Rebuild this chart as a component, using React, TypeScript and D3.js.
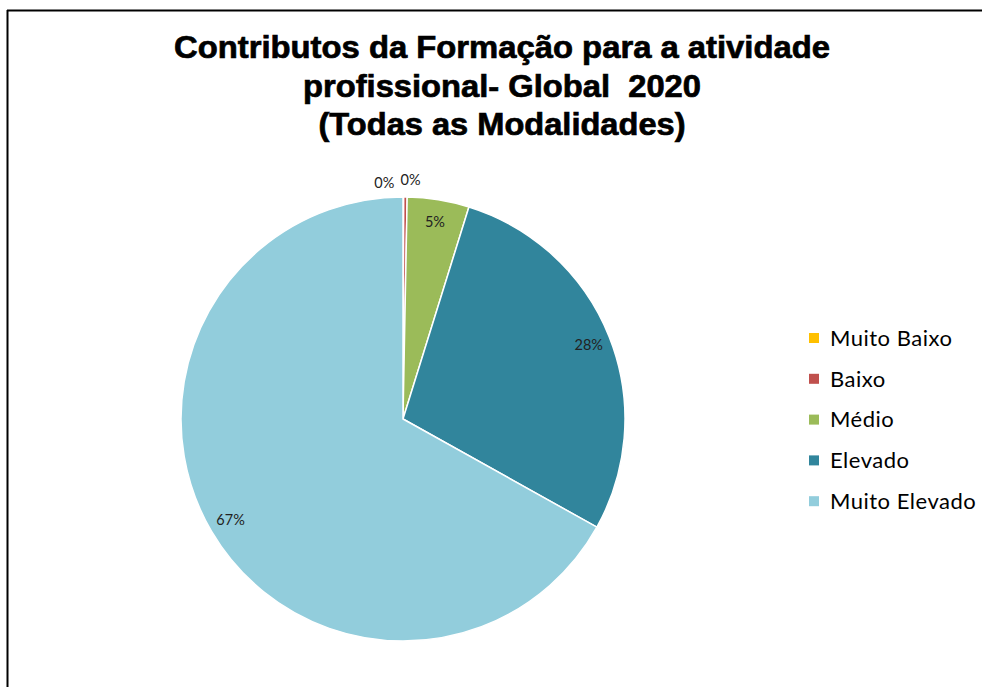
import React from "react";
import * as d3 from "d3";

const categories = ["Muito Baixo", "Baixo", "Médio", "Elevado", "Muito Elevado"];
const values = [0.05, 0.25, 4.5, 28.3, 66.9];
const valueLabels = ["0%", "0%", "5%", "28%", "67%"];
const colors = ["#FFC000", "#C0504D", "#9BBB59", "#31859C", "#92CDDC"];
const titleLines = [
  "Contributos da Formação para a atividade",
  "profissional- Global  2020",
  "(Todas as Modalidades)",
];
const titleWidths = [656, 398, 367];

const W = 982;
const H = 687;
const cx = 403;
const cy = 419;
const R = 222;

export default function App() {
  const pie = d3.pie<number>().sort(null).value((d) => d)(values);
  const arc = d3.arc<d3.PieArcDatum<number>>().innerRadius(0).outerRadius(R);
  const labelArc = d3.arc<d3.PieArcDatum<number>>().innerRadius(200).outerRadius(200);

  return (
    <svg
      width={W}
      height={H}
      style={{ position: "absolute", left: 0, top: 0, background: "#fff" }}
    >
      <rect x={0} y={0} width={W} height={H} fill="#fff" />
      <line x1={7} y1={10.5} x2={W} y2={10.5} stroke="#000" strokeWidth={2} />
      <line x1={7.5} y1={10} x2={7.5} y2={H} stroke="#000" strokeWidth={2} />
      {titleLines.map((t, i) => (
        <text
          key={i}
          x={502}
          y={58 + i * 38.5}
          textAnchor="middle"
          fontFamily="Liberation Sans, Arial, sans-serif"
          fontWeight="bold"
          fontSize={31}
          fill="#000"
          stroke="#000"
          strokeWidth={0.7}
          textLength={titleWidths[i]}
          lengthAdjust="spacingAndGlyphs"
          style={{ whiteSpace: "pre" }}
        >
          {t}
        </text>
      ))}
      <g transform={`translate(${cx},${cy})`}>
        {pie.map((d, i) => (
          <path
            key={i}
            d={arc(d) || ""}
            fill={colors[i]}
            stroke="#fff"
            strokeWidth={1.5}
            strokeLinejoin="round"
          />
        ))}
        {pie.map((d, i) => {
          if (i < 2) {
            const a = (d.startAngle + d.endAngle) / 2;
            const rr = R + 12;
            const x = rr * Math.sin(a);
            const y = -rr * Math.cos(a);
            return (
              <text
                key={i}
                x={i === 0 ? x - 9 : x - 5}
                y={y + (i === 0 ? 3 : 0)}
                textAnchor={i === 0 ? "end" : "start"}
                fontFamily="Lato, sans-serif"
                fontSize={14.5}
                fill="#222"
              >
                {valueLabels[i]}
              </text>
            );
          }
          const [x, y] = labelArc.centroid(d);
          return (
            <text
              key={i}
              x={x}
              y={y}
              dy="0.35em"
              textAnchor="middle"
              fontFamily="Lato, sans-serif"
              fontSize={14.5}
              fill="#222"
            >
              {valueLabels[i]}
            </text>
          );
        })}
      </g>
      {categories.map((c, i) => (
        <g key={c} transform={`translate(809,${338 + i * 40.8})`}>
          <rect x={0} y={-5} width={10} height={10} fill={colors[i]} />
          <text
            x={21}
            y={0}
            dy="0.35em"
            fontFamily="Lato, sans-serif"
            fontSize={22}
            letterSpacing={0.5}
            fill="#000"
          >
            {c}
          </text>
        </g>
      ))}
    </svg>
  );
}
